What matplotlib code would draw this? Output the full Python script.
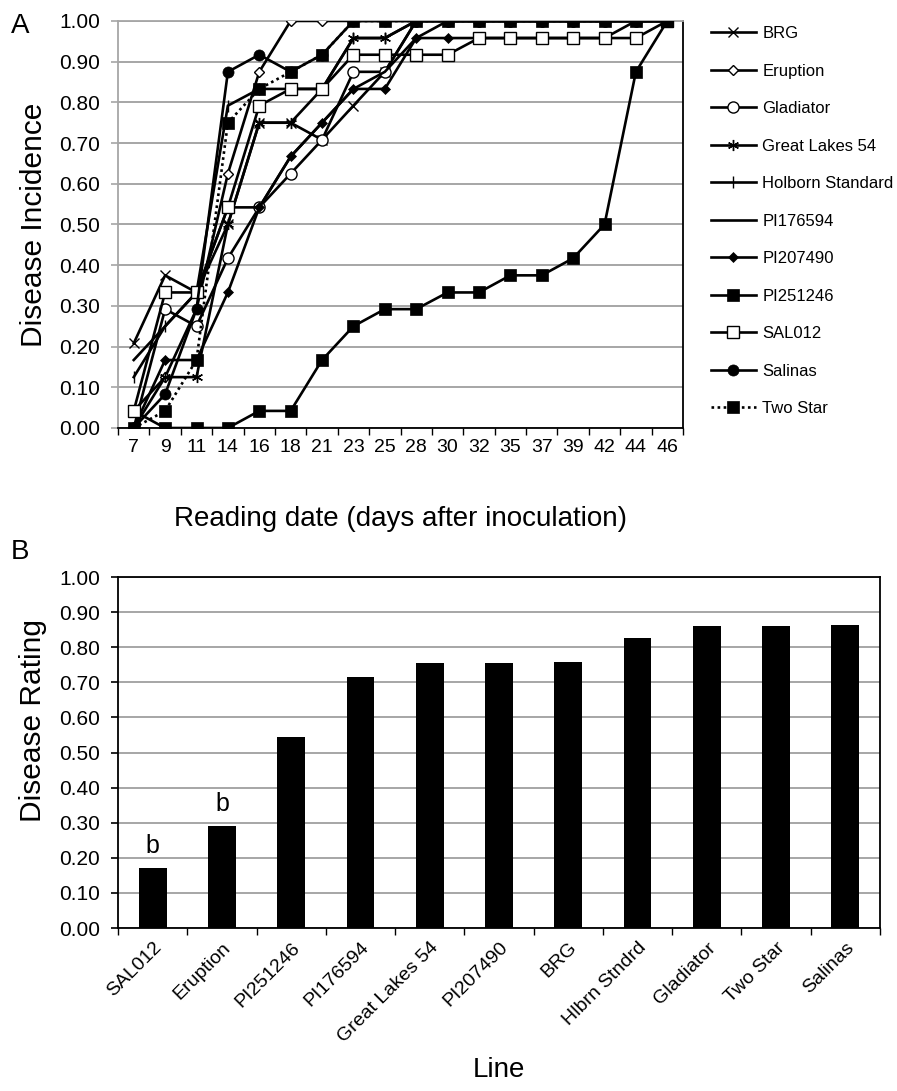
import numpy as np
import matplotlib
matplotlib.use("Agg")
import matplotlib.pyplot as plt
from matplotlib.ticker import FixedLocator

plt.rcParams['font.family'] = ['Liberation Sans', 'DejaVu Sans']

# ---- panel A data: disease incidence over reading dates ----
days = [7, 9, 11, 14, 16, 18, 21, 23, 25, 28, 30, 32, 35, 37, 39, 42, 44, 46]

brg       = [0.208, 0.375, 0.333, 0.500, 0.750, 0.750, 0.708, 0.792, 0.875, 1.0, 1.0, 1.0, 1.0, 1.0, 1.0, 1.0, 1.0, 1.0]
eruption  = [0.000, 0.125, 0.292, 0.625, 0.875, 1.000, 1.000, 1.000, 1.000, 1.0, 1.0, 1.0, 1.0, 1.0, 1.0, 1.0, 1.0, 1.0]
gladiator = [0.000, 0.292, 0.250, 0.417, 0.542, 0.625, 0.708, 0.875, 0.875, 1.0, 1.0, 1.0, 1.0, 1.0, 1.0, 1.0, 1.0, 1.0]
glakes54  = [0.042, 0.125, 0.125, 0.500, 0.750, 0.750, 0.833, 0.958, 0.958, 1.0, 1.0, 1.0, 1.0, 1.0, 1.0, 1.0, 1.0, 1.0]
holborn   = [0.125, 0.250, 0.333, 0.792, 0.833, 0.833, 0.833, 0.958, 0.958, 1.0, 1.0, 1.0, 1.0, 1.0, 1.0, 1.0, 1.0, 1.0]
pi176594  = [0.167, 0.250, 0.333, 0.542, 0.542, 0.667, 0.750, 0.833, 0.875, 0.958, 1.0, 1.0, 1.0, 1.0, 1.0, 1.0, 1.0, 1.0]
pi207490  = [0.000, 0.167, 0.167, 0.333, 0.542, 0.667, 0.750, 0.833, 0.833, 0.958, 0.958, 0.958, 0.958, 0.958, 0.958, 0.958, 1.0, 1.0]
pi251246  = [0.042, 0.000, 0.000, 0.000, 0.042, 0.042, 0.167, 0.250, 0.292, 0.292, 0.333, 0.333, 0.375, 0.375, 0.417, 0.500, 0.875, 1.0]
sal012    = [0.042, 0.333, 0.333, 0.542, 0.792, 0.833, 0.833, 0.917, 0.917, 0.917, 0.917, 0.958, 0.958, 0.958, 0.958, 0.958, 0.958, 1.0]
salinas   = [0.000, 0.083, 0.292, 0.875, 0.917, 0.875, 0.917, 1.000, 1.000, 1.0, 1.0, 1.0, 1.0, 1.0, 1.0, 1.0, 1.0, 1.0]
twostar   = [0.000, 0.042, 0.167, 0.750, 0.833, 0.875, 0.917, 1.000, 1.000, 1.0, 1.0, 1.0, 1.0, 1.0, 1.0, 1.0, 1.0, 1.0]

# ---- panel B data: disease rating per line ----
lines_b = ['SAL012', 'Eruption', 'PI251246', 'PI176594', 'Great Lakes 54', 'PI207490',
           'BRG', 'Hlbrn Stndrd', 'Gladiator', 'Two Star', 'Salinas']
rating = [0.170, 0.290, 0.545, 0.715, 0.755, 0.755, 0.758, 0.827, 0.860, 0.860, 0.862]
letters = ['b', 'b', '', '', '', '', '', '', '', '', '']

fig = plt.figure(figsize=(8.97, 10.91), dpi=100)
axA = fig.add_axes([0.1316, 0.6077, 0.6298, 0.3731])
axB = fig.add_axes([0.1316, 0.1494, 0.8494, 0.3217])

grid_c = '#a6a6a6'
lw = 1.9
tick_fs = 15
x = np.arange(len(days))

series = [
    ('BRG', brg, dict(marker='x', ms=7, mew=1.0, mfc='k')),
    ('Eruption', eruption, dict(marker='D', ms=5.5, mfc='white', mew=1.0)),
    ('Gladiator', gladiator, dict(marker='o', ms=8, mfc='white', mew=1.0)),
    ('Great Lakes 54', glakes54, dict(marker=(6, 2, 0), ms=8, mew=1.0)),
    ('Holborn Standard', holborn, dict(marker='|', ms=8, mew=1.0)),
    ('PI176594', pi176594, dict(marker='None')),
    ('PI207490', pi207490, dict(marker='D', ms=5, mfc='k', mew=0.5)),
    ('PI251246', pi251246, dict(marker='s', ms=8, mfc='k', mew=0.5)),
    ('SAL012', sal012, dict(marker='s', ms=8, mfc='white', mew=1.0)),
    ('Salinas', salinas, dict(marker='o', ms=8, mfc='k', mew=0.5)),
    ('Two Star', twostar, dict(marker='s', ms=8, mfc='k', mew=0.5, ls=(0, (1, 1.3)))),
]
for name, vals, kw in series:
    ls = kw.pop('ls', '-')
    axA.plot(x, vals, color='k', lw=lw, ls=ls, mec='k', label=name, zorder=3, **kw)

axA.set_xlim(-0.5, len(days) - 0.5)
axA.set_ylim(0, 1)
axA.set_xticks(x)
axA.set_xticklabels([str(d) for d in days], fontsize=14)
axA.xaxis.set_minor_locator(FixedLocator(np.arange(-0.5, len(days), 1)))
axA.tick_params(axis='x', which='major', length=0, pad=8)
axA.tick_params(axis='x', which='minor', length=5, color='k', width=1)
axA.set_yticks(np.arange(0, 1.01, 0.1))
axA.set_yticklabels(['%.2f' % v for v in np.arange(0, 1.01, 0.1)], fontsize=tick_fs)
axA.tick_params(axis='y', length=5, color=grid_c, width=1.2, pad=8)
axA.yaxis.grid(True, color=grid_c, lw=1.4)
axA.set_axisbelow(True)
axA.spines['left'].set_color(grid_c)
axA.spines['top'].set_color(grid_c)
axA.spines['right'].set_color('k')
axA.spines['bottom'].set_color('k')
for s in axA.spines.values():
    s.set_linewidth(1.3)
axA.set_ylabel('Disease Incidence', fontsize=21.5, labelpad=8)
axA.set_xlabel('Reading date (days after inoculation)', fontsize=20, labelpad=36)

fig.legend(*axA.get_legend_handles_labels(), loc='upper left',
           bbox_to_anchor=(0.785, 0.982), frameon=False, fontsize=12,
           handlelength=2.7, handletextpad=0.4, labelspacing=1.35, borderaxespad=0)

# ---- panel B ----
xb = np.arange(len(lines_b))
axB.bar(xb, rating, width=0.4, color='k', zorder=3)
for xi, v, t in zip(xb, rating, letters):
    if t:
        axB.text(xi, v + 0.03, t, ha='center', va='bottom', fontsize=18)
axB.set_xlim(-0.5, len(lines_b) - 0.5)
axB.set_ylim(0, 1)
axB.set_xticks(xb)
axB.set_xticklabels(lines_b, rotation=45, ha='right', rotation_mode='anchor', fontsize=14)
axB.xaxis.set_minor_locator(FixedLocator(np.arange(-0.5, len(lines_b), 1)))
axB.tick_params(axis='x', which='major', length=0, pad=8)
axB.tick_params(axis='x', which='minor', length=5, color='k', width=1)
axB.set_yticks(np.arange(0, 1.01, 0.1))
axB.set_yticklabels(['%.2f' % v for v in np.arange(0, 1.01, 0.1)], fontsize=tick_fs)
axB.tick_params(axis='y', length=5, color='k', width=1.2, pad=8)
axB.yaxis.grid(True, color=grid_c, lw=1.4)
axB.set_axisbelow(True)
for s in axB.spines.values():
    s.set_color('k')
    s.set_linewidth(1.3)
axB.set_ylabel('Disease Rating', fontsize=21.5)
axB.yaxis.set_label_coords(-0.093, 0.59)
axB.set_xlabel('Line', fontsize=20, labelpad=8)

fig.text(0.012, 0.988, 'A', fontsize=20, va='top', ha='left')
fig.text(0.012, 0.506, 'B', fontsize=20, va='top', ha='left')

fig.savefig('out.png', dpi=100)
